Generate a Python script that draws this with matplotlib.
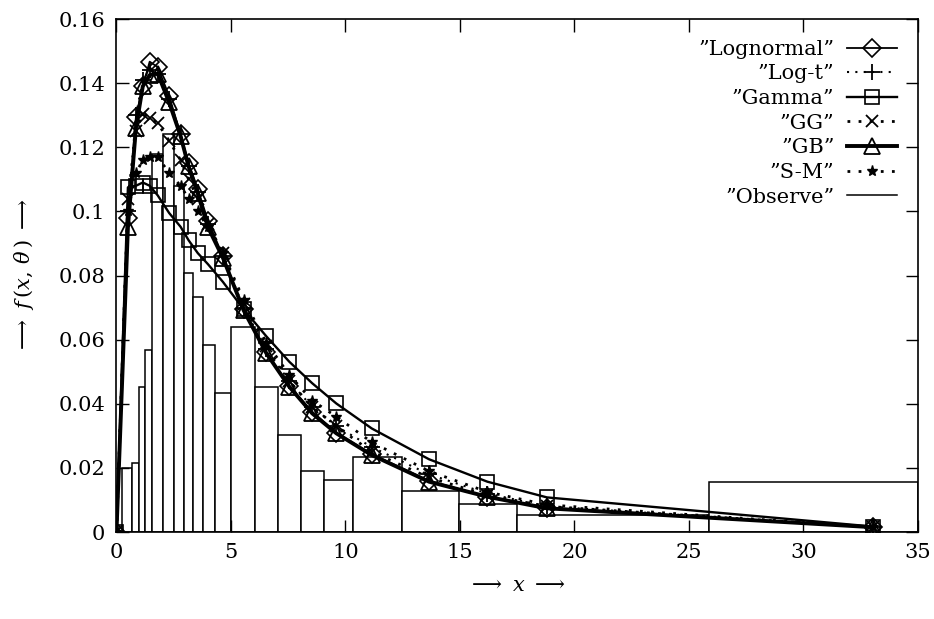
import numpy as np
import matplotlib.pyplot as plt

# grid of x values where the fitted densities were evaluated
x_pts = [0, 0.5, 0.85, 1.15, 1.45, 1.8, 2.3, 2.8, 3.15, 3.55, 4.0, 4.65,
         5.55, 6.55, 7.55, 8.55, 9.6, 11.15, 13.65, 16.2, 18.8, 33.05]

lognormal = [0, 0.098, 0.1295, 0.139, 0.1467, 0.145, 0.136, 0.124, 0.115, 0.107, 0.097, 0.086,
             0.0695, 0.056, 0.0455, 0.0375, 0.031, 0.0243, 0.016, 0.011, 0.0076, 0.0015]
log_t = [0, 0.100, 0.130, 0.141, 0.144, 0.143, 0.135, 0.124, 0.114, 0.106, 0.096, 0.086,
         0.070, 0.057, 0.047, 0.039, 0.033, 0.0265, 0.018, 0.012, 0.008, 0.0015]
gamma = [0, 0.1075, 0.108, 0.109, 0.108, 0.105, 0.0995, 0.0952, 0.091, 0.087, 0.0835, 0.078,
         0.0695, 0.061, 0.0531, 0.0464, 0.0401, 0.0323, 0.0227, 0.0157, 0.0108, 0.0017]
gg = [0, 0.104, 0.125, 0.1305, 0.129, 0.1275, 0.122, 0.116, 0.110, 0.104, 0.096, 0.087,
      0.071, 0.058, 0.047, 0.039, 0.033, 0.025, 0.017, 0.0115, 0.008, 0.0015]
gb = [0, 0.095, 0.126, 0.139, 0.1425, 0.143, 0.134, 0.1235, 0.114, 0.1056, 0.095, 0.0855,
      0.0692, 0.0557, 0.0453, 0.037, 0.0308, 0.024, 0.0157, 0.011, 0.0074, 0.0015]
s_m = [0, 0.100, 0.112, 0.116, 0.117, 0.117, 0.112, 0.108, 0.104, 0.100, 0.095, 0.087,
       0.0725, 0.059, 0.049, 0.041, 0.036, 0.028, 0.019, 0.0125, 0.0085, 0.0015]

# observed histogram (bin edges and density heights)
bin_edges = [0.25, 0.7, 1.0, 1.25, 1.55, 2.02, 2.53, 2.95, 3.33, 3.77, 4.3, 5.02,
             6.06, 7.07, 8.07, 9.05, 10.35, 12.45, 14.95, 17.5, 25.9, 35]
observed = [0.020, 0.0214, 0.0451, 0.0568, 0.118, 0.124, 0.108, 0.0807, 0.0734, 0.0583, 0.0435,
            0.064, 0.0453, 0.0303, 0.0191, 0.0162, 0.0235, 0.0128, 0.0087, 0.0053, 0.0155]

xticks = [0, 5, 10, 15, 20, 25, 30, 35]
yticks = [0, 0.02, 0.04, 0.06, 0.08, 0.1, 0.12, 0.14, 0.16]
ytick_labels = ['0', '0.02', '0.04', '0.06', '0.08', '0.1', '0.12', '0.14', '0.16']

plt.rcParams['font.family'] = 'DejaVu Serif'
plt.rcParams['mathtext.fontset'] = 'dejavuserif'

fig = plt.figure(figsize=(9.34, 6.19), dpi=100)
ax = fig.add_axes([0.1247, 0.1405, 0.858, 0.8288])

# histogram boxes
widths = np.diff(bin_edges)
ax.bar(bin_edges[:-1], observed, width=widths, align='edge', color='white',
       edgecolor='black', linewidth=1.1, zorder=1)

dotted = (0, (1, 3))
ax.plot(x_pts, lognormal, color='black', lw=1.3, marker='D', ms=9, mfc='none', mew=1.2,
        label='”Lognormal”', zorder=3)
ax.plot(x_pts, log_t, color='black', lw=1.5, ls=dotted, marker='+', ms=12, mew=1.3,
        label='”Log-t”', zorder=3)
ax.plot(x_pts, gamma, color='black', lw=1.7, marker='s', ms=10, mfc='none', mew=1.2,
        label='”Gamma”', zorder=3)
ax.plot(x_pts, gg, color='black', lw=2.0, ls=dotted, marker='x', ms=9, mew=1.3,
        label='”GG”', zorder=3)
ax.plot(x_pts, gb, color='black', lw=2.8, marker='^', ms=11, mfc='none', mew=1.3,
        label='”GB”', zorder=4)
ax.plot(x_pts, s_m, color='black', lw=2.0, ls=dotted, marker='*', ms=8,
        label='”S-M”', zorder=3)
# legend entry for the histogram
ax.plot([], [], color='black', lw=1.1, label='”Observe”')

ax.set_xlim(0, 35)
ax.set_ylim(0, 0.16)
ax.set_xticks(xticks)
ax.set_yticks(yticks)
ax.set_yticklabels(ytick_labels)
ax.tick_params(direction='in', length=9, width=1, top=True, right=True,
               labelsize=15, pad=8)
for sp in ax.spines.values():
    sp.set_linewidth(1.2)

ax.set_xlabel(r'$\longrightarrow\ x\ \longrightarrow$', fontsize=15, labelpad=10)
ax.set_ylabel(r'$\longrightarrow\ f\,(x,\,\theta\,)\ \longrightarrow$', fontsize=15, labelpad=16)

ax.legend(loc='upper right', frameon=False, markerfirst=False, numpoints=1,
          fontsize=15, handlelength=2.4, labelspacing=0.27, borderaxespad=0.4,
          handletextpad=0.6, borderpad=0.6)

fig.savefig('out.png', dpi=100)
